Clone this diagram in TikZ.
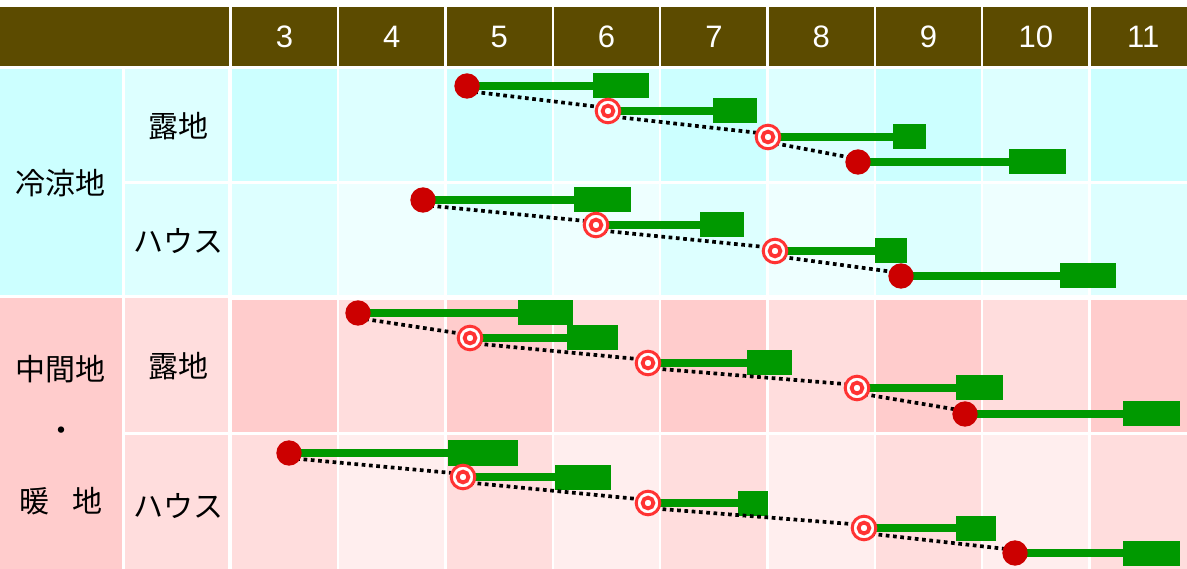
\documentclass[tikz,border=0pt]{standalone}
\usepackage{fontspec}
\setmainfont{Liberation Sans}
\newfontfamily\jp{Noto Sans CJK JP}
\definecolor{head}{HTML}{5C4B00}
\definecolor{ra1}{HTML}{CCFFFF}
\definecolor{ra0}{HTML}{DDFFFF}
\definecolor{rb1}{HTML}{DDFFFF}
\definecolor{rb0}{HTML}{EEFFFF}
\definecolor{rc1}{HTML}{FFCCCC}
\definecolor{rc0}{HTML}{FFDDDD}
\definecolor{rd1}{HTML}{FFDDDD}
\definecolor{rd0}{HTML}{FFEEEE}
\definecolor{sowred}{HTML}{CC0000}
\definecolor{ringred}{HTML}{FF3333}
\definecolor{cropgreen}{HTML}{009900}
\pgfdeclarelayer{fg}
\pgfsetlayers{main,fg}
\begin{document}
\begin{tikzpicture}[x=1pt, y=-1pt, line join=round,
	jplabel/.style={font=\jp\fontsize{30}{35}\selectfont, inner sep=0pt},
	month/.style={text=white, font=\fontsize{31}{36}\selectfont, inner sep=0pt},
	sowdot/.style={circle, fill=sowred, inner sep=0pt, minimum size=25.4pt},
	plantring/.style={circle, draw=ringred, fill=white, line width=3pt, inner sep=0pt, minimum size=23.6pt,
		path picture={\draw[ringred, line width=3.8pt] (path picture bounding box.center) circle (5.4pt);}},
	harvest/.style={rectangle, fill=cropgreen, inner sep=0pt, minimum height=25pt},
	growbar/.style={cropgreen, line width=8pt},
	dotline/.style={black, line width=3.7pt, dash pattern=on 3.7pt off 3.6pt}]
	\useasboundingbox (0,0) rectangle (1187,569);
	\clip (0,0) rectangle (1187,569);
	\fill[white] (0,0) rectangle (1187,569);
	\fill[head] (0,7) rectangle (229,66);
	\foreach \k in {3,...,11} {
		\pgfmathsetmacro\xl{232+(\k-3)*107.35}
		\fill[head] (\xl,7) rectangle ++(105,59);
		\node[month] (m\k) at (\xl+52.5,36.5) {\k};
	}
	\foreach \r/\ya/\yb in {a/69/181, b/184/295, c/300/432, d/435/569} {
		\foreach \k in {3,...,11} {
			\pgfmathsetmacro\xl{232+(\k-3)*107.35}
			\pgfmathtruncatemacro\odd{mod(\k,2)}
			\fill[r\r\odd] (\xl,\ya) rectangle (\xl+105,\yb);
		}
	}
	\fill[ra1] (0,69) rectangle (122,295);
	\fill[ra0] (125,69) rectangle (228,181);
	\fill[ra0] (125,184) rectangle (228,295);
	\fill[rc1] (0,298) rectangle (122,569);
	\fill[rc0] (125,298) rectangle (228,432);
	\fill[rc0] (125,435) rectangle (228,569);
	\node[jplabel] (cool) at (61,183) {冷涼地};
	\node[jplabel] (coolopen) at (178,126) {露地};
	\node[jplabel] (coolhouse) at (178,241) {ハウス};
	\node[jplabel] (mild) at (61,369) {中間地};
	\node[jplabel] (middot) at (61,434) {・};
	\node[jplabel] (warm) at (61,501) {暖\hspace{0.75em}地};
	\node[jplabel] (mildopen) at (178,366) {露地};
	\node[jplabel] (mildhouse) at (178,506) {ハウス};
	\foreach \n/\s/\x/\y/\l/\r in {
		a1/sowdot/467/86/593/649, a2/plantring/608/111/713/757, a3/plantring/768/137/893/926, a4/sowdot/858/162/1009/1066,
		b1/sowdot/423/200/574/631, b2/plantring/596/225/700/744, b3/plantring/775/251/875/907, b4/sowdot/901/276/1060/1116,
		c1/sowdot/358/313/518/573, c2/plantring/470/338/567/618, c3/plantring/648/363/747/792, c4/plantring/857/388/956/1003, c5/sowdot/965/414/1123/1180,
		d1/sowdot/289/453/448/518, d2/plantring/463/477/555/611, d3/plantring/648/503/738/768, d4/plantring/864/528/956/996, d5/sowdot/1015/553/1123/1180} {
		\node[harvest, minimum width={(\r-\l)*1pt}] (\n h) at ({(\l+\r)/2},\y) {};
		\begin{pgfonlayer}{fg}
			\node[\s] (\n) at (\x,\y) {};
		\end{pgfonlayer}
	}
	\foreach \n in {a1,a2,a3,a4,b1,b2,b3,b4,c1,c2,c3,c4,c5,d1,d2,d3,d4,d5}
		\draw[growbar] (\n.center) -- (\n h.west);
	\foreach \p/\q in {a1/a2,a2/a3,a3/a4,b1/b2,b2/b3,b3/b4,c1/c2,c2/c3,c3/c4,c4/c5,d1/d2,d2/d3,d3/d4,d4/d5}
		\draw[dotline] ([yshift=-5pt]\p.center) -- ([yshift=3pt]\q.center);
\end{tikzpicture}
\end{document}
